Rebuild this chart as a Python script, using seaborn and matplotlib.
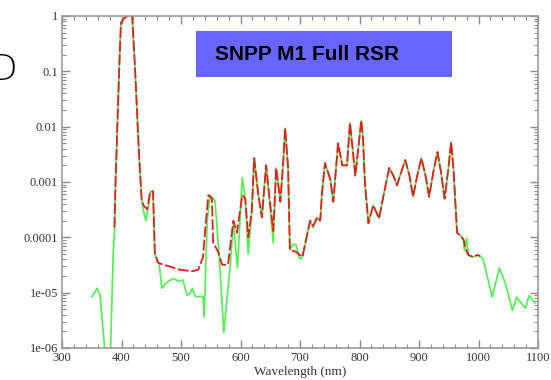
import numpy as np
import pandas as pd
import seaborn as sns
import matplotlib.pyplot as plt
from matplotlib.patches import Rectangle
from matplotlib.ticker import FixedLocator, FixedFormatter, MultipleLocator, LogLocator

# full RSR (green)
wl_full = [350, 359, 364, 374, 381, 386, 389, 390, 393, 396, 399, 403, 408, 411, 418, 420, 423, 426, 429,
           431, 434, 437, 441, 445, 448, 453, 456, 460, 463, 468, 475, 487, 497, 503, 510, 515, 519, 524,
           537, 539, 544, 549, 557, 564, 572, 583, 588, 595, 603, 608, 613, 619, 623, 630, 636, 643, 648,
           655, 660, 667, 672, 675, 680, 683, 688, 693, 700, 704, 717, 722, 729, 734, 737, 742, 751, 756,
           764, 771, 779, 784, 793, 803, 806, 809, 815, 823, 833, 842, 850, 857, 863, 870, 877, 884, 890,
           897, 904, 911, 917, 924, 931, 937, 943, 949, 954, 958, 964, 969, 975, 976, 980, 983, 991, 998,
           1007, 1011, 1023, 1035, 1045, 1057, 1064, 1079, 1085, 1095]
rsr_full = [8.3e-6, 1.2e-5, 9e-6, 5e-7, 5e-7, 5e-5, 1.8e-4, 1e-3, 1e-2, 0.1, 0.74, 0.88, 0.97, 1.0, 1.0,
            0.4, 0.1, 0.02, 0.004, 1.6e-3, 4.7e-4, 3e-4, 2e-4, 3.5e-4, 6.6e-4, 6.8e-4, 5e-5, 4e-5, 3.4e-5,
            1.2e-5, 1.5e-5, 1.8e-5, 1.6e-5, 1.7e-5, 9e-6, 9.5e-6, 1.2e-5, 8.5e-6, 8.5e-6, 3.6e-6, 2e-4,
            5.8e-4, 4.6e-4, 5e-5, 1.9e-6, 3.4e-5, 1.8e-4, 2.8e-5, 1.2e-3, 5e-4, 5e-5, 3e-4, 2.7e-3, 5.8e-4,
            2.3e-4, 2e-3, 6e-4, 8e-5, 1.8e-3, 4.4e-4, 2.5e-3, 9.4e-3, 1.8e-3, 5.9e-5, 7.5e-5, 7.4e-5, 4e-5,
            4.4e-5, 2e-4, 1.5e-4, 2.3e-4, 2e-4, 6.3e-4, 2.2e-3, 1.1e-3, 4.4e-4, 5e-3, 2e-3, 2e-3, 0.0117,
            1.3e-3, 0.013, 6e-3, 1e-3, 1.8e-4, 3.8e-4, 2.2e-4, 7e-4, 1.8e-3, 1.3e-3, 8.7e-4, 1.5e-3, 2.5e-3,
            1.3e-3, 5.4e-4, 1.3e-3, 2.7e-3, 1.3e-3, 5.4e-4, 1.5e-3, 3.5e-3, 1.5e-3, 5e-4, 1.6e-3, 5.3e-3,
            1.7e-3, 1.2e-4, 1.1e-4, 9e-5, 5.9e-5, 9.5e-5, 4.8e-5, 4.4e-5, 4.8e-5, 4.2e-5, 2.9e-5, 8.3e-6,
            2.8e-5, 1.5e-5, 4.8e-6, 8.3e-6, 5.2e-6, 8.9e-6, 6.5e-6]

# truncated RSR (red)
wl_trunc = [388, 390, 393, 396, 399, 403, 408, 411, 418, 420, 423, 426, 429, 431, 434, 437, 443, 445, 448,
            453, 456, 461, 470, 480, 498, 510, 520, 529, 537, 542, 546, 552, 554, 562, 569, 579, 588, 594,
            603, 608, 613, 619, 623, 630, 636, 643, 648, 655, 660, 667, 672, 675, 680, 683, 693, 704, 717,
            722, 729, 734, 737, 742, 751, 756, 764, 771, 779, 784, 793, 803, 806, 809, 815, 823, 833, 842,
            850, 857, 863, 870, 877, 884, 890, 897, 904, 911, 917, 924, 931, 937, 943, 949, 954, 958, 964,
            969, 975, 978, 983, 991, 998, 1003]
rsr_trunc = [1.5e-4, 1e-3, 1e-2, 0.1, 0.74, 0.88, 0.97, 1.0, 1.0, 0.4, 0.1, 0.02, 0.004, 1.6e-3, 4.7e-4,
             3.8e-4, 3.2e-4, 4e-4, 6.6e-4, 6.8e-4, 5.2e-5, 3.5e-5, 3.2e-5, 3e-5, 2.6e-5, 2.5e-5, 2.45e-5,
             2.6e-5, 4.4e-5, 2e-4, 5.8e-4, 5e-4, 8e-5, 5.6e-5, 3.2e-5, 3.2e-5, 2e-4, 1.2e-4, 5.8e-4, 5e-4,
             1e-4, 3e-4, 2.7e-3, 5.8e-4, 2.3e-4, 2e-3, 6e-4, 1.3e-4, 1.8e-3, 4.4e-4, 2.5e-3, 9.4e-3, 1.8e-3,
             5.9e-5, 5.5e-5, 4.4e-5, 2e-4, 1.6e-4, 2.3e-4, 2e-4, 6.3e-4, 2.2e-3, 1.1e-3, 4.4e-4, 5e-3, 2e-3,
             2e-3, 0.0117, 1.3e-3, 0.013, 6e-3, 1e-3, 1.8e-4, 3.8e-4, 2.2e-4, 7e-4, 1.8e-3, 1.3e-3, 8.7e-4,
             1.5e-3, 2.5e-3, 1.3e-3, 5.4e-4, 1.3e-3, 2.7e-3, 1.3e-3, 5.4e-4, 1.5e-3, 3.5e-3, 1.5e-3, 5e-4,
             1.6e-3, 5.3e-3, 1.7e-3, 1.2e-4, 1.1e-4, 9e-5, 6.3e-5, 4.8e-5, 4.4e-5, 4.8e-5, 4.6e-5]

y_ticks = [1e-6, 1e-5, 1e-4, 1e-3, 1e-2, 0.1, 1]
y_labels = ['1e-06', '1e-05', '0.0001', '0.001', '0.01', '0.1', '1']
title = 'SNPP M1 Full RSR'

sns.set_style('ticks')
plt.rcParams['font.family'] = ['Liberation Serif', 'DejaVu Serif']

fig = plt.figure(figsize=(5.51, 3.80), dpi=100)
ax = fig.add_axes([62/551, 32/380, 476/551, 332/380])

full = pd.DataFrame({'wl': wl_full, 'rsr': rsr_full})
trunc = pd.DataFrame({'wl': wl_trunc, 'rsr': rsr_trunc})
sns.lineplot(data=full, x='wl', y='rsr', color='#4cf24c', lw=1.2, estimator=None, sort=False, ax=ax)
sns.lineplot(data=trunc, x='wl', y='rsr', color='#e81c1c', lw=1.3, estimator=None, sort=False, ax=ax)
ax.lines[-1].set_dashes([6, 1.5])

ax.set_yscale('log')
ax.set_xlim(300, 1100)
ax.set_ylim(1e-6, 1)
ax.xaxis.set_major_locator(MultipleLocator(100))
ax.xaxis.set_minor_locator(MultipleLocator(20))
ax.yaxis.set_major_locator(FixedLocator(y_ticks))
ax.yaxis.set_major_formatter(FixedFormatter(y_labels))
ax.yaxis.set_minor_locator(LogLocator(base=10, subs=np.arange(2, 10)))
ax.tick_params(which='both', direction='in', top=True, right=True, color='#888888',
               labelsize=9, labelcolor='#333333', pad=3)
ax.tick_params(which='major', length=6, width=1)
ax.tick_params(which='minor', length=3, width=0.8)
for s in ax.spines.values():
    s.set_color('#999999')
    s.set_linewidth(1.2)
ax.set_xlabel('Wavelength (nm)', fontsize=9.5, color='#333333', labelpad=1)
ax.set_ylabel('')

fig.patches.append(Rectangle((196/551, 303/380), 256/551, 46/380, transform=fig.transFigure,
                             facecolor='#6666ff', edgecolor='none', zorder=5))
fig.text(215/551, 326/380, title, fontsize=15, fontweight='bold', family='Liberation Sans',
         va='center', ha='left', color='black', zorder=6)
# partial letter at the slide edge, cut off as in the original
fig.text(17/551, 310/380, 'D', fontsize=26, family='DejaVu Sans', fontweight='light',
         va='center', ha='right', color='black')

fig.savefig('out.png', dpi=100)
